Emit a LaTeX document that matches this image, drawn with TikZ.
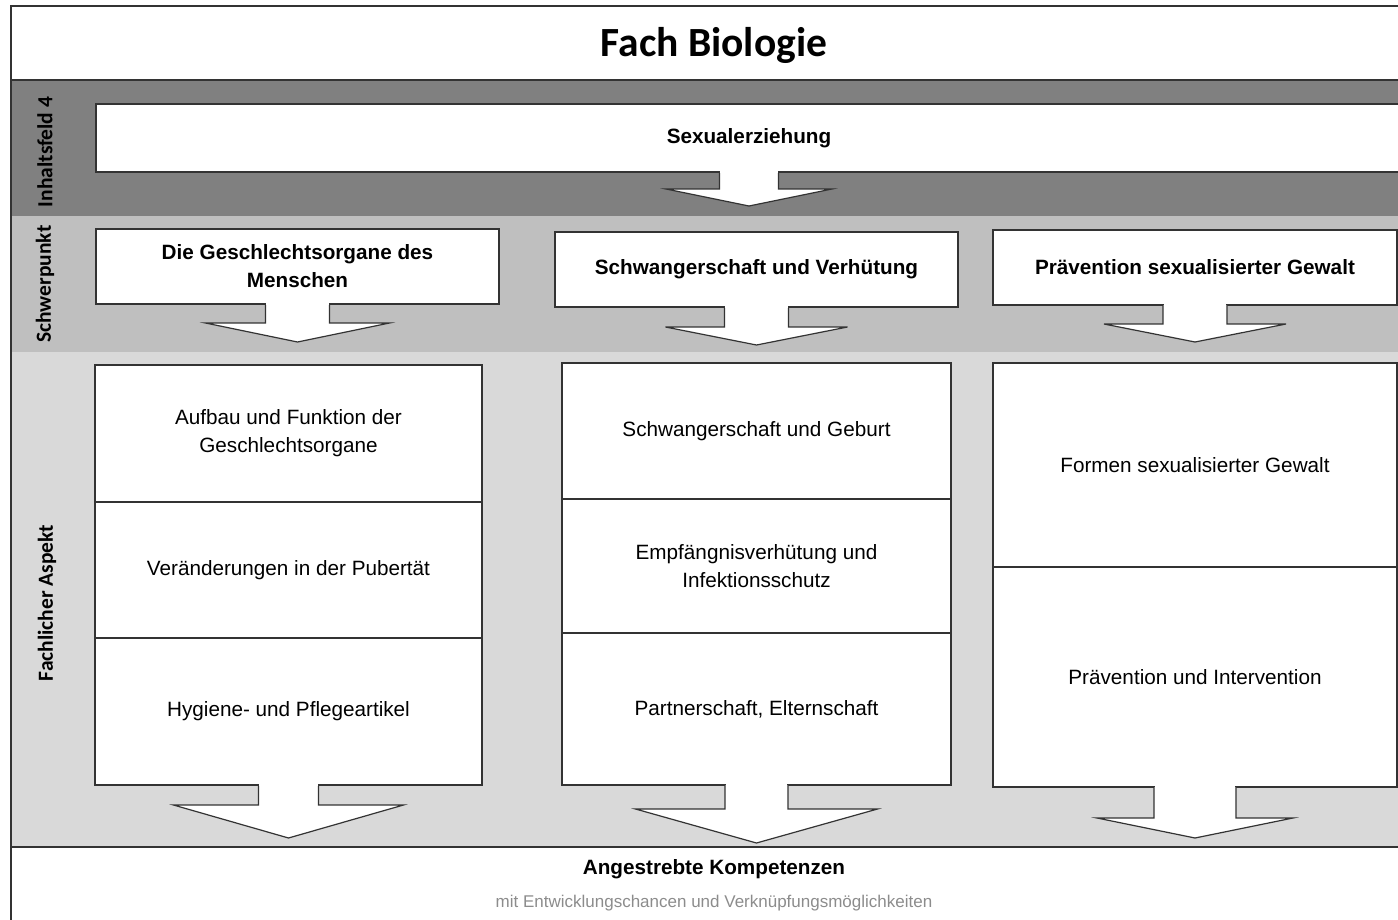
\documentclass[tikz,border=0pt]{standalone}
\usepackage{fontspec}
\setmainfont{Liberation Sans}
\newfontfamily\calibri{Carlito}
\usepackage{tikz}
\usetikzlibrary{positioning}
\usepackage{xcolor}

\definecolor{bandDark}{HTML}{808080}
\definecolor{bandMid}{HTML}{BFBFBF}
\definecolor{bandLight}{HTML}{D9D9D9}
\definecolor{lineGray}{HTML}{333333}

% block arrow under a box: node, stem half width, stem length, head half width, head length
\newcommand{\blockarrow}[5]{%
    \draw[arrowline] ([xshift=-#2pt]#1.south) -- ++(0,#3) -- ++({#2-#4},0) -- ++(#4,#5) -- ++(#4,-#5) -- ++({#2-#4},0) -- ++(0,-#3);
    \fill[white] ([xshift=-#2pt+0.7pt, yshift=1.2pt]#1.south) rectangle ([xshift=#2pt-0.7pt, yshift=-1.2pt]#1.south);
}

\begin{document}
\begin{tikzpicture}[
        x=1pt, y=-1pt,
        node distance=0pt,
        box/.style={rectangle, draw=lineGray, line width=1.2pt, fill=white, outer sep=0pt, inner sep=0pt, align=center, font=\fontsize{20.7}{28}\selectfont},
        focusbox/.style={box, minimum width=403pt, minimum height=75pt, font=\fontsize{20.7}{28}\selectfont\bfseries},
        bandlabel/.style={rotate=90, font=\calibri\fontsize{21.5}{25}\selectfont\bfseries},
        arrowline/.style={draw=lineGray, line width=1.2pt, fill=white, line join=miter}
    ]
        \useasboundingbox (0,0) rectangle (1398,919);
        \clip (0,0) rectangle (1398,919);

        % Bands
        \fill[bandDark] (11,80) rectangle (1400,216);
        \fill[bandMid] (11,216) rectangle (1400,352);
        \fill[bandLight] (11,352) rectangle (1400,847);
        \draw[lineGray, line width=1.2pt] (1400,6) -- (11,6) -- (11,925);
        \draw[lineGray, line width=1.2pt] (11,80) -- (1400,80);
        \draw[lineGray, line width=1.6pt] (11,847) -- (1400,847);

        % Title
        \node[font=\calibri\fontsize{41.5}{49}\selectfont\bfseries] (title) at (714,45) {Fach Biologie};

        % Band labels
        \node[bandlabel] (feld) at (45,152) {Inhaltsfeld 4};
        \node[bandlabel] (punkt) at (45,284) {Schwerpunkt};
        \node[bandlabel] (aspekt) at (47,603) {Fachlicher Aspekt};

        % Inhaltsfeld
        \node[box, minimum width=1306pt, minimum height=68pt, anchor=north west, font=\fontsize{20.7}{28}\selectfont\bfseries] (sexual) at (96,104) {Sexualerziehung};

        % Schwerpunkte
        \node[focusbox, anchor=north west] (organe) at (96,229) {Die Geschlechtsorgane des\\Menschen};
        \node[focusbox, anchor=north west] (schwanger) at (555,232) {Schwangerschaft und Verhütung};
        \node[focusbox, minimum width=404pt, anchor=north west] (gewalt) at (993,230) {Prävention sexualisierter Gewalt};

        % Fachliche Aspekte, column 1
        \node[box, minimum width=387pt, minimum height=137pt, anchor=north west] (aufbau) at (95,365) {Aufbau und Funktion der\\Geschlechtsorgane};
        \node[box, minimum width=387pt, minimum height=136pt, below=of aufbau] (pubertaet) {Veränderungen in der Pubertät};
        \node[box, minimum width=387pt, minimum height=147pt, below=of pubertaet] (hygiene) {Hygiene- und Pflegeartikel};

        % Fachliche Aspekte, column 2
        \node[box, minimum width=389pt, minimum height=136pt, anchor=north west] (geburt) at (562,363) {Schwangerschaft und Geburt};
        \node[box, minimum width=389pt, minimum height=134pt, below=of geburt] (verhuetung) {Empfängnisverhütung und\\Infektionsschutz};
        \node[box, minimum width=389pt, minimum height=152pt, below=of verhuetung] (eltern) {Partnerschaft, Elternschaft};

        % Fachliche Aspekte, column 3
        \node[box, minimum width=404pt, minimum height=204pt, anchor=north west] (formen) at (993,363) {Formen sexualisierter Gewalt};
        \node[box, minimum width=404pt, minimum height=220pt, below=of formen] (intervention) {Prävention und Intervention};

        % Arrows
        \blockarrow{sexual}{29.5}{17}{83}{17}
        \blockarrow{organe}{32}{19}{92}{19}
        \blockarrow{schwanger}{32}{20}{91}{18}
        \blockarrow{gewalt}{32}{19}{91}{18}
        \blockarrow{hygiene}{30}{20}{115}{33}
        \blockarrow{eltern}{31.5}{24}{121}{34}
        \blockarrow{intervention}{41}{31}{98}{20}

        % Kompetenzen
        \node[font=\fontsize{20.7}{25}\selectfont\bfseries] (kompetenz) at (714,869) {Angestrebte Kompetenzen};
        \node[font=\fontsize{17}{20}\selectfont, text=black!45, below=9pt of kompetenz] (chancen) {mit Entwicklungschancen und Verknüpfungsmöglichkeiten};
    \end{tikzpicture}
\end{document}
